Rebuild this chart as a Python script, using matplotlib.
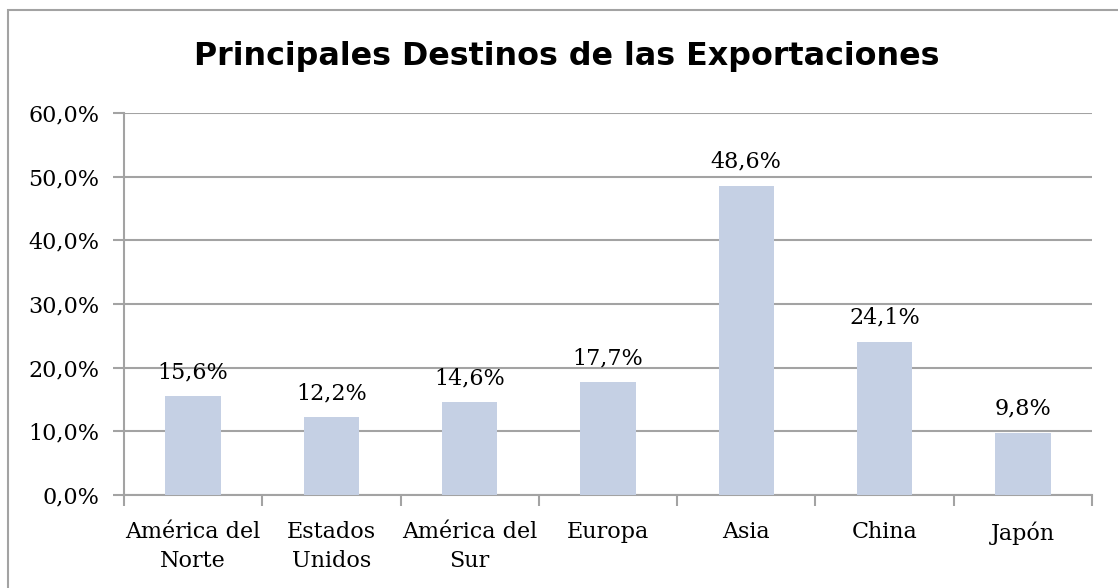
import numpy as np
from matplotlib import pyplot as plt
from matplotlib import rcParams
from matplotlib.patches import Rectangle
from matplotlib.ticker import FuncFormatter

rcParams['font.family'] = 'DejaVu Serif'
rcParams['font.size'] = 16

categories = ['América del\nNorte', 'Estados\nUnidos', 'América del\nSur', 'Europa', 'Asia', 'China', 'Japón']
shares = [15.6, 12.2, 14.6, 17.7, 48.6, 24.1, 9.8]
yticks = [0, 10, 20, 30, 40, 50, 60]

bar_color = '#C5D0E4'
grid_color = '#A3A3A3'

fig = plt.figure(figsize=(11.18, 5.88), dpi=100)
ax = fig.add_axes([124/1118, 1 - 495/588, (1092-124)/1118, (495-113)/588])

x = np.arange(len(categories))
ax.bar(x, shares, width=0.4, color=bar_color, zorder=3)
for xi, v in zip(x, shares):
    ax.text(xi, v + 2.0, ('%.1f%%' % v).replace('.', ','), ha='center', va='bottom', fontsize=16)

ax.set_xlim(-0.5, len(categories) - 0.5)
ax.set_ylim(0, 60)
ax.set_yticks(yticks)
ax.yaxis.set_major_formatter(FuncFormatter(lambda v, p: ('%.1f%%' % v).replace('.', ',')))
ax.yaxis.grid(True, color=grid_color, linewidth=1.5, zorder=0)

# category boundaries get the tick marks, names sit between them
ax.set_xticks(np.arange(len(categories) + 1) - 0.5)
ax.set_xticklabels([])
ax.set_xticks(x, minor=True)
ax.set_xticklabels(categories, minor=True, linespacing=1.4)
ax.tick_params(axis='x', which='minor', length=0, pad=19)
ax.tick_params(axis='x', which='major', length=8, width=1.5, color=grid_color, direction='out')
ax.tick_params(axis='y', length=8, width=1.5, color=grid_color, direction='out', pad=10)

for s in ['top', 'right']:
    ax.spines[s].set_visible(False)
for s in ['left', 'bottom']:
    ax.spines[s].set_color(grid_color)
    ax.spines[s].set_linewidth(1.5)

fig.text(567/1118, 1 - 57/588, 'Principales Destinos de las Exportaciones', ha='center', va='center',
         fontsize=22.9, fontweight='bold', family='DejaVu Sans')

fig.patches.append(Rectangle((8/1118, -0.1), 1.2, 1.1 - 10/588, transform=fig.transFigure,
                             fill=False, edgecolor=grid_color, linewidth=1.5))

fig.savefig('out.png', dpi=100)
